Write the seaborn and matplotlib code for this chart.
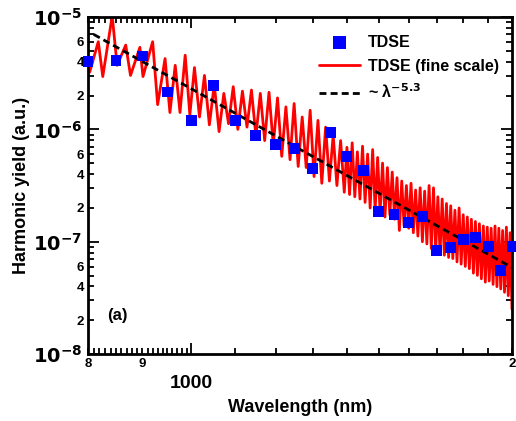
import numpy as np
import pandas as pd
import seaborn as sns
import matplotlib.pyplot as plt
from matplotlib.ticker import FixedLocator, FixedFormatter

# TDSE harmonic yield, every 50 nm
tdse_wavelength = [800, 850, 900, 950, 1000, 1050, 1100, 1150, 1200, 1250, 1300, 1350,
                   1400, 1450, 1500, 1550, 1600, 1650, 1700, 1750, 1800, 1850, 1900,
                   1950, 2000]
tdse_yield = [3.98e-6, 4.14e-6, 4.5e-6, 2.15e-6, 1.21e-6, 2.48e-6, 1.21e-6, 8.9e-7,
              7.4e-7, 6.8e-7, 4.5e-7, 9.3e-7, 5.7e-7, 4.3e-7, 1.84e-7, 1.76e-7,
              1.47e-7, 1.69e-7, 8.4e-8, 8.8e-8, 1.05e-7, 1.08e-7, 9.1e-8, 5.5e-8, 9.1e-8]

# fine-scale TDSE trace (peaks / troughs), log10 of yield
red_wavelength = [803, 818, 826, 843, 852, 868, 877, 895, 901, 920, 930, 945, 955, 966,
                  976, 987, 997, 1007,
                  1018, 1029, 1040, 1051, 1062, 1073, 1084, 1095, 1106, 1117, 1128, 1139,
                  1150, 1161, 1172, 1183, 1194, 1205, 1216, 1227, 1238, 1249, 1260, 1271,
                  1282, 1293, 1304, 1315, 1326, 1337, 1348, 1359, 1370, 1381, 1392,
                  1400, 1408, 1416, 1424, 1432, 1440, 1448, 1456, 1464, 1472, 1480, 1488,
                  1496, 1504, 1512, 1520, 1528, 1536, 1544, 1552, 1560, 1568, 1576, 1584,
                  1592, 1600, 1608, 1616, 1624, 1632, 1640, 1648, 1656, 1664, 1672, 1680,
                  1688, 1696, 1704, 1712, 1720, 1728, 1736, 1744, 1752, 1760, 1768, 1776,
                  1784, 1792, 1800, 1808, 1816, 1824, 1832, 1840, 1848, 1856, 1864, 1872,
                  1880, 1888, 1896, 1904, 1912, 1920, 1928, 1936, 1944, 1952, 1960, 1968,
                  1976, 1984, 1992, 2000]
red_log_yield = [-5.49, -5.22, -5.53, -4.99, -5.43, -5.25, -5.52, -5.27, -5.53, -5.22,
                 -5.78, -5.37, -5.85, -5.43, -5.85, -5.34, -5.87, -5.45,
                 -5.89, -5.52, -5.96, -5.60, -6.02, -5.68, -5.95, -5.62, -6.00, -5.66,
                 -5.98, -5.65, -6.06, -5.68, -6.10, -5.67, -6.14, -5.72, -6.24, -5.80,
                 -6.27, -5.77, -6.33, -5.89, -6.34, -5.83, -6.42, -5.92, -6.48, -5.98,
                 -6.46, -6.05, -6.50, -6.10, -6.56,
                 -6.16, -6.58, -6.12, -6.60, -6.20, -6.62, -6.15, -6.65, -6.22, -6.70,
                 -6.18, -6.72, -6.25, -6.74, -6.30, -6.78, -6.34, -6.76, -6.38, -6.80,
                 -6.43, -6.90, -6.46, -6.86, -6.50, -6.88, -6.48, -6.92, -6.54, -6.95,
                 -6.52, -7.00, -6.55, -7.02, -6.50, -7.06, -6.52, -7.08, -6.60, -7.10,
                 -6.62, -7.12, -6.66, -7.14, -6.68, -7.15, -6.72, -7.18, -6.70, -7.20,
                 -6.76, -7.22, -6.78, -7.24, -6.80, -7.28, -6.82, -7.30, -6.84, -7.33,
                 -6.86, -7.36, -6.87, -7.35, -6.88, -7.38, -6.86, -7.40, -6.88, -7.42,
                 -6.90, -7.45, -6.87, -7.48, -6.92, -7.60]

# power-law guide ~ lambda^-5.3
fit_wavelength = [810, 2000]
fit_yield = [7.0e-6, 5.9e-8]

sns.set_style("ticks")
plt.rcParams['font.family'] = ['Liberation Sans', 'DejaVu Sans']
plt.rcParams['font.weight'] = 'bold'
for k in ['text.color', 'axes.labelcolor', 'xtick.color', 'ytick.color']:
    plt.rcParams[k] = 'black'

fig = plt.figure(figsize=(5.16, 4.21), dpi=100)
ax = fig.add_axes([0.1705, 0.159, 0.8217, 0.8006])

red = pd.DataFrame({'wl': red_wavelength, 'y': 10 ** np.array(red_log_yield)})
sns.lineplot(data=red, x='wl', y='y', color='#ff0000', lw=2.0, estimator=None,
             sort=False, ax=ax, label='TDSE (fine scale)', zorder=2)
sns.lineplot(x=fit_wavelength, y=fit_yield, color='black', lw=2, ax=ax,
             label=r'~ λ$^{\mathbf{-5.3}}$', zorder=3)
ax.lines[-1].set_dashes([2.5, 1.5])
sns.scatterplot(x=tdse_wavelength, y=tdse_yield, marker='s', s=62, color='#0000ff',
                edgecolor='none', ax=ax, label='TDSE', zorder=4, clip_on=False)

ax.set_xscale('log')
ax.set_yscale('log')
ax.set_xlim(800, 2000)
ax.set_ylim(1e-8, 1e-5)

# x ticks
ax.xaxis.set_major_locator(FixedLocator([1000]))
ax.xaxis.set_major_formatter(FixedFormatter(['1000']))
xminor = list(range(800, 1000, 10)) + list(range(1100, 2000, 100)) + [2000]
xminor_lab = ['8' if v == 800 else '9' if v == 900 else '2' if v == 2000 else ''
              for v in xminor]
ax.xaxis.set_minor_locator(FixedLocator(xminor))
ax.xaxis.set_minor_formatter(FixedFormatter(xminor_lab))

# y ticks
ymaj = [1e-8, 1e-7, 1e-6, 1e-5]
ax.yaxis.set_major_locator(FixedLocator(ymaj))
ax.yaxis.set_major_formatter(FixedFormatter([r'$\mathbf{10^{-8}}$', r'$\mathbf{10^{-7}}$',
                                             r'$\mathbf{10^{-6}}$', r'$\mathbf{10^{-5}}$']))
yminor = [m * d for d in [1e-8, 1e-7, 1e-6] for m in range(2, 10)]
yminor_lab = [str(m) if m in (2, 4, 6) else '' for d in [1e-8, 1e-7, 1e-6] for m in range(2, 10)]
ax.yaxis.set_minor_locator(FixedLocator(yminor))
ax.yaxis.set_minor_formatter(FixedFormatter(yminor_lab))

ax.tick_params(which='both', direction='in', top=True, right=True, width=1.3, colors='black')
ax.tick_params(which='major', length=8)
ax.tick_params(which='minor', length=4)
ax.tick_params(axis='y', which='major', labelsize=14, pad=4)
ax.tick_params(axis='y', which='minor', labelsize=9.5, pad=3)
ax.tick_params(axis='x', which='major', labelsize=14, pad=15)
ax.tick_params(axis='x', which='minor', labelsize=9.5, pad=3)
for lab in ax.get_xticklabels(which='minor') + ax.get_yticklabels(which='minor'):
    lab.set_fontweight('bold')

for sp in ax.spines.values():
    sp.set_linewidth(2)
    sp.set_color('black')

ax.set_xlabel('Wavelength (nm)', fontsize=13, fontweight='bold', labelpad=5)
ax.set_ylabel('Harmonic yield (a.u.)', fontsize=13, fontweight='bold', labelpad=2)
ax.text(0.045, 0.1, '(a)', transform=ax.transAxes, fontsize=12, fontweight='bold')

h, l = ax.get_legend_handles_labels()
order = [l.index('TDSE'), l.index('TDSE (fine scale)'), l.index(r'~ λ$^{\mathbf{-5.3}}$')]
leg = ax.legend([h[i] for i in order], [l[i] for i in order], loc='upper right',
                bbox_to_anchor=(1.0, 0.985), frameon=False, fontsize=11.5,
                handlelength=2.6, handletextpad=0.5, labelspacing=0.55,
                borderaxespad=0.4, markerscale=1.25)
for t in leg.get_texts():
    t.set_fontweight('bold')

fig.savefig('out.png', dpi=100)
